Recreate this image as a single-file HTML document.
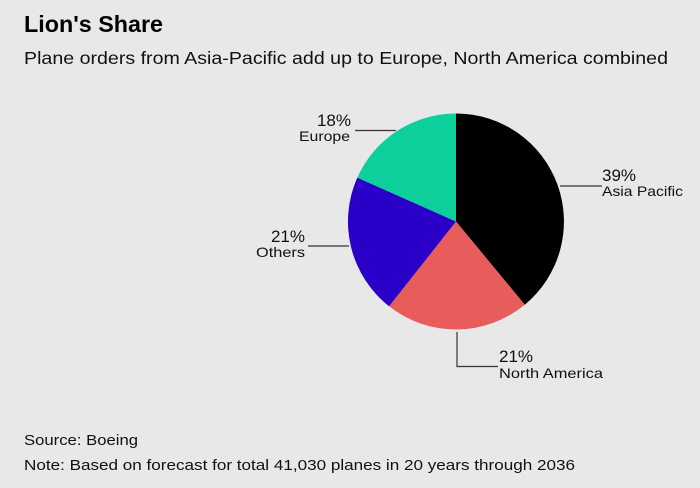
<!DOCTYPE html>
<html><head><meta charset="utf-8"><style>
body{margin:0;background:#e8e8e8;}
</style></head><body>
<svg width="700" height="488" viewBox="0 0 700 488" xmlns="http://www.w3.org/2000/svg" style="display:block;font-family:'Liberation Sans',sans-serif">
<rect width="700" height="488" fill="#e8e8e8"/>
<text x="24" y="32" font-size="23" font-weight="bold" fill="#000" textLength="139" lengthAdjust="spacingAndGlyphs">Lion's Share</text>
<text x="24" y="64" font-size="17.5" fill="#111" textLength="644" lengthAdjust="spacingAndGlyphs">Plane orders from Asia-Pacific add up to Europe, North America combined</text>
<g transform="translate(456,221.5)">
<path d="M0,0 L0,-108 A108,108 0 0 1 68.8,83.2 Z" fill="#000"/>
<path d="M0,0 L68.8,83.2 A108,108 0 0 1 -66.9,84.8 Z" fill="#e85c5c"/>
<path d="M0,0 L-66.9,84.8 A108,108 0 0 1 -98.7,-43.9 Z" fill="#2a00c8"/>
<path d="M0,0 L-98.7,-43.9 A108,108 0 0 1 0,-108 Z" fill="#0ccf9c"/>
</g>
<g stroke="#333" stroke-width="1.2" fill="none">
<line x1="355" y1="130.5" x2="396" y2="130.5"/>
<line x1="560" y1="186" x2="602" y2="186"/>
<line x1="308" y1="246" x2="349" y2="246"/>
<polyline points="457,332 457,366.5 498,366.5"/>
</g>
<g fill="#111">
<text x="351" y="126" font-size="17" text-anchor="end">18%</text>
<text x="299" y="141" font-size="14" textLength="51" lengthAdjust="spacingAndGlyphs">Europe</text>
<text x="602" y="181" font-size="17">39%</text>
<text x="602" y="196" font-size="14" textLength="81" lengthAdjust="spacingAndGlyphs">Asia Pacific</text>
<text x="305" y="242" font-size="17" text-anchor="end">21%</text>
<text x="256" y="257" font-size="14" textLength="49" lengthAdjust="spacingAndGlyphs">Others</text>
<text x="499" y="362" font-size="17">21%</text>
<text x="499" y="378" font-size="14" textLength="104" lengthAdjust="spacingAndGlyphs">North America</text>
<text x="24" y="445" font-size="14.5" textLength="114" lengthAdjust="spacingAndGlyphs">Source: Boeing</text>
<text x="24" y="470" font-size="14.5" textLength="551" lengthAdjust="spacingAndGlyphs">Note: Based on forecast for total 41,030 planes in 20 years through 2036</text>
</g>
</svg>
</body></html>
